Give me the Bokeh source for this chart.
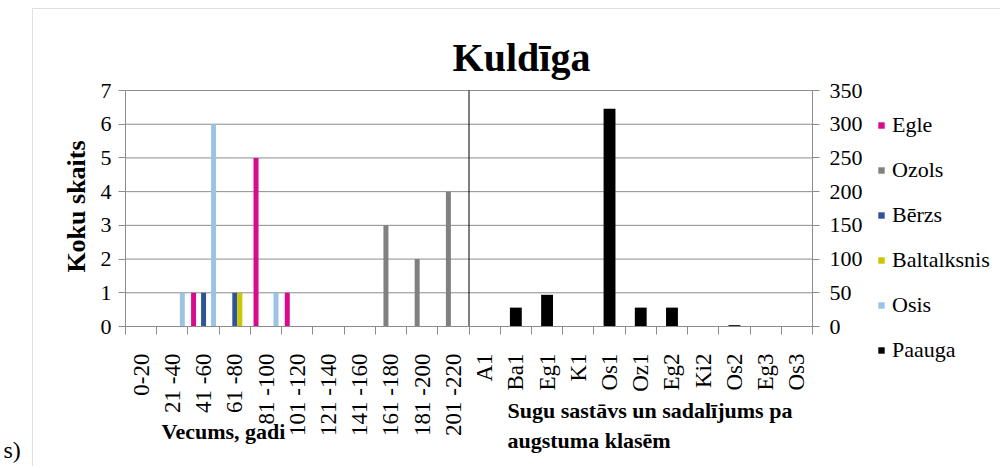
import math
from bokeh.plotting import figure
from bokeh.models import (Range1d, LinearAxis, FixedTicker, Label, Legend,
                          LegendItem, ColumnDataSource, BoxAnnotation)
from bokeh.transform import dodge
from bokeh.embed import file_html
from bokeh.resources import INLINE

# ---------------- data ----------------
age_classes = ["0-20", "21 -40", "41 -60", "61 -80", "81 -100", "101 -120",
               "121 -140", "141 -160", "161 -180", "181 -200", "201 -220"]
species_classes = ["A1", "Ba1", "Eg1", "K1", "Os1", "Oz1", "Eg2", "Ki2", "Os2", "Eg3", "Os3"]
categories = age_classes + species_classes

egle = [0, 0, 1, 0, 5, 1, 0, 0, 0, 0, 0]
ozols = [0, 0, 0, 0, 0, 0, 0, 0, 3, 2, 4]
berzs = [0, 0, 1, 1, 0, 0, 0, 0, 0, 0, 0]
baltalksnis = [0, 0, 0, 1, 0, 0, 0, 0, 0, 0, 0]
osis = [0, 1, 6, 0, 1, 0, 0, 0, 0, 0, 0]
paauga = [0, 28, 47, 0, 323, 28, 28, 0, 2, 0, 0]

series_names = ["Egle", "Ozols", "Bērzs", "Baltalksnis", "Osis"]
series_values = [egle, ozols, berzs, baltalksnis, osis]
series_colors = ["#DA0A8C", "#808080", "#2E5597", "#C9C800", "#9CC3E5"]
paauga_name = "Paauga"
paauga_color = "#000000"

title_text = "Kuldīga"
left_axis_title = "Koku skaits"
age_title = "Vecums, gadi"
species_title_1 = "Sugu sastāvs un sadalījums  pa"
species_title_2 = "augstuma klasēm"
corner_text = "s)"

left_ticks = [0, 1, 2, 3, 4, 5, 6, 7]
right_ticks = [0, 50, 100, 150, 200, 250, 300, 350]

# ---------------- layout (canvas pixels) ----------------
FONT = "Liberation Serif"
GRID = "#8c8c8c"
W, H = 1000, 466
PX_L, PX_R, PX_T, PX_B = 125, 812, 90, 326   # plot area inside the canvas

n_age = len(age_classes)
n_all = len(categories)
y_max = left_ticks[-1]
r_max = right_ticks[-1]
dx = n_all / (PX_R - PX_L)
dy = y_max / (PX_B - PX_T)


def X(px):
    return (px - PX_L) * dx


def Y(py):
    return (PX_B - py) * dy


ratio = r_max / y_max

p = figure(width=W, height=H, min_border=0,
           x_range=Range1d(X(0), X(W)), y_range=Range1d(Y(H), Y(0)),
           x_axis_type=None, y_axis_type=None,
           output_backend="svg", toolbar_location=None,
           background_fill_color="white", border_fill_color="white")
p.extra_y_ranges = {"right": Range1d(Y(H) * ratio, Y(0) * ratio)}
p.outline_line_color = None

# chart-area border
p.add_layout(BoxAnnotation(left=X(32), right=X(W + 20), top=Y(8), bottom=Y(H + 20),
                           fill_alpha=0, line_color="#999999", line_width=1, level="underlay"))

# horizontal gridlines (plot area only)
p.segment(x0=[0] * len(left_ticks), x1=[n_all] * len(left_ticks), y0=left_ticks, y1=left_ticks,
          line_color=GRID, line_width=1)

# left axis
ya = LinearAxis(ticker=FixedTicker(ticks=left_ticks, minor_ticks=[]), fixed_location=0,
                bounds=(0, y_max))
ya.axis_line_color = GRID
ya.major_tick_line_color = GRID
ya.major_tick_out = 7
ya.major_tick_in = 0
ya.minor_tick_line_color = None
ya.major_label_text_font = FONT
ya.major_label_text_font_size = "22px"
ya.major_label_text_color = "black"
ya.major_label_standoff = 7
p.add_layout(ya, "left")

# right axis
ra = LinearAxis(y_range_name="right", ticker=FixedTicker(ticks=right_ticks, minor_ticks=[]),
                fixed_location=n_all, bounds=(0, r_max))
ra.axis_line_color = GRID
ra.major_tick_line_color = GRID
ra.major_tick_out = 7
ra.major_tick_in = 0
ra.minor_tick_line_color = None
ra.major_label_text_font = FONT
ra.major_label_text_font_size = "22px"
ra.major_label_text_color = "black"
ra.major_label_standoff = 10
p.add_layout(ra, "right")

# bottom axis: labels at category centres, tick marks at category boundaries
centers = [i + 0.5 for i in range(n_all)]
xa = LinearAxis(ticker=FixedTicker(ticks=centers, minor_ticks=list(range(n_all + 1))),
                fixed_location=0, bounds=(0, n_all))
xa.major_label_overrides = {c: lab for c, lab in zip(centers, categories)}
xa.major_label_orientation = math.pi / 2
xa.axis_line_color = GRID
xa.major_tick_line_color = None
xa.major_tick_out = 0
xa.minor_tick_line_color = GRID
xa.minor_tick_out = 8
xa.minor_tick_in = 0
xa.major_label_text_font = FONT
xa.major_label_text_font_size = "23px"
xa.major_label_text_color = "black"
xa.major_label_standoff = 19
p.add_layout(xa, "below")

# bars
age_src = ColumnDataSource(dict(x=[i + 0.5 for i in range(n_age)],
                                **{f"s{k}": v for k, v in enumerate(series_values)}))
sp_src = ColumnDataSource(dict(x=[n_age + i + 0.5 for i in range(len(species_classes))],
                               paauga=paauga))
bar_w = 0.16
offsets = [-0.32, -0.16, 0.0, 0.16, 0.32]
legend_items = []
for k, (name, col) in enumerate(zip(series_names, series_colors)):
    r = p.vbar(x=dodge("x", offsets[k], range=p.x_range), top=f"s{k}", width=bar_w,
               source=age_src, fill_color=col, line_color=None)
    legend_items.append(LegendItem(label=name, renderers=[r]))
rp = p.vbar(x="x", top="paauga", width=0.38, source=sp_src, y_range_name="right",
            fill_color=paauga_color, line_color=None)
legend_items.append(LegendItem(label=paauga_name, renderers=[rp]))

# divider between the two groups
p.segment(x0=[n_age], x1=[n_age], y0=[0], y1=[y_max], line_color="black", line_width=1)

legend = Legend(items=legend_items, location=(877, H - 363), padding=0, margin=0,
                spacing=19, glyph_width=8, glyph_height=8, label_standoff=7,
                label_text_font=FONT, label_text_font_size="22px", label_height=25,
                label_text_color="black",
                border_line_color=None, background_fill_alpha=0)
p.add_layout(legend, "center")

# texts
p.add_layout(Label(x=X(521), y=Y(57), text=title_text, text_font=FONT, text_font_style="bold",
                   text_font_size="40px", text_align="center", text_baseline="middle",
                   text_color="black"))
p.add_layout(Label(x=X(76), y=Y(206), text=left_axis_title, text_font=FONT,
                   text_font_style="bold", text_font_size="26px", text_align="center",
                   text_baseline="middle", angle=math.pi / 2, text_color="black"))
p.add_layout(Label(x=X(223), y=Y(431), text=age_title, text_font=FONT, text_font_style="bold",
                   text_font_size="22px", text_align="center", text_baseline="middle",
                   text_color="black"))
p.add_layout(Label(x=X(507), y=Y(410), text=species_title_1, text_font=FONT,
                   text_font_style="bold", text_font_size="22px", text_align="left",
                   text_baseline="middle", text_color="black"))
p.add_layout(Label(x=X(507), y=Y(440), text=species_title_2, text_font=FONT,
                   text_font_style="bold", text_font_size="22px", text_align="left",
                   text_baseline="middle", text_color="black"))
p.add_layout(Label(x=X(3), y=Y(449), text=corner_text, text_font=FONT,
                   text_font_size="24px", text_align="left", text_baseline="middle",
                   text_color="black"))

open("out.html", "w").write(file_html(p, INLINE))
